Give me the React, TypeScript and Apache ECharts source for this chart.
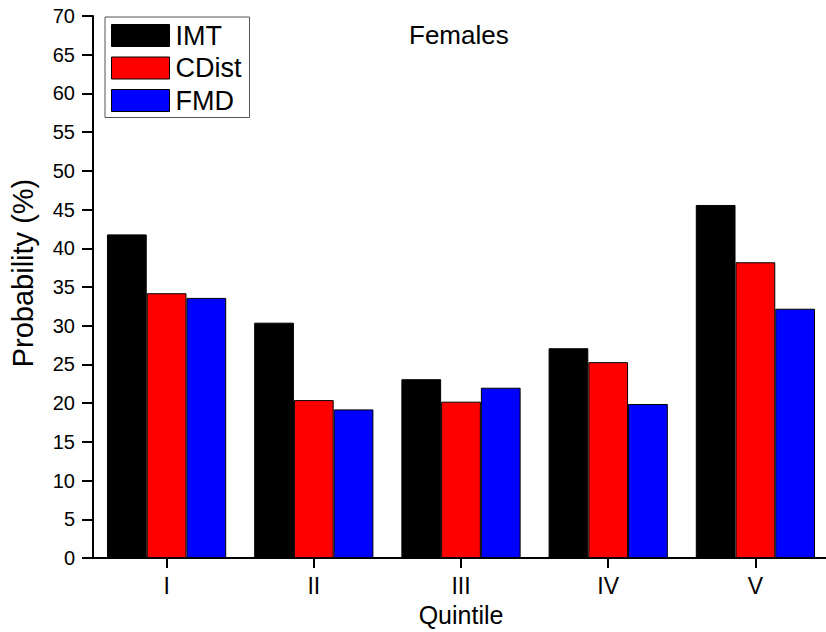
import React, { useEffect, useRef } from "react";
import * as echarts from "echarts";

const categories = ["I", "II", "III", "IV", "V"];
const imt = [41.8, 30.4, 23.1, 27.1, 45.6];
const cdist = [34.2, 20.4, 20.2, 25.3, 38.2];
const fmd = [33.6, 19.2, 22.0, 19.9, 32.2];
const seriesNames = ["IMT", "CDist", "FMD"];
const seriesColors = ["#000000", "#ff0000", "#0000ff"];

const FONT = '"Liberation Sans", Arial, sans-serif';

export default function App() {
  const ref = useRef<HTMLDivElement>(null);
  useEffect(() => {
    if (!ref.current) return;
    const chart = echarts.init(ref.current, null, { renderer: "svg" });
    const values = [imt, cdist, fmd];
    chart.setOption({
      animation: false,
      backgroundColor: "#ffffff",
      textStyle: { fontFamily: FONT, color: "#000" },
      title: {
        text: "Females",
        left: 409,
        top: 22,
        padding: 0,
        textStyle: { fontFamily: FONT, fontSize: 26, fontWeight: "normal", color: "#000" },
      },
      legend: {
        orient: "vertical",
        left: 105,
        top: 17,
        padding: [5, 8, 3.5, 6],
        itemWidth: 58,
        itemHeight: 22,
        itemGap: 5.5,
        borderColor: "#555",
        borderWidth: 1,
        icon: "rect",
        data: seriesNames,
        itemStyle: { borderColor: "#000", borderWidth: 1 },
        textStyle: { fontFamily: FONT, fontSize: 27, color: "#000", padding: [0, 0, 0, 1] },
      },
      grid: { left: 92, right: 11, top: 16, bottom: 72.5, containLabel: false },
      xAxis: {
        type: "category",
        data: categories,
        name: "Quintile",
        nameLocation: "middle",
        nameGap: 42,
        nameTextStyle: { fontFamily: FONT, fontSize: 25, color: "#000" },
        axisLine: { show: true, onZero: false, lineStyle: { color: "#000", width: 2 } },
        axisTick: { show: true, alignWithLabel: true, length: 10, inside: false, lineStyle: { color: "#000", width: 2 } },
        axisLabel: { fontFamily: FONT, fontSize: 23, color: "#000", margin: 16 },
        splitLine: { show: false },
      },
      yAxis: {
        type: "value",
        min: 0,
        max: 70,
        interval: 5,
        name: "Probability (%)",
        nameLocation: "middle",
        nameGap: 56,
        nameTextStyle: { fontFamily: FONT, fontSize: 29, color: "#000", padding: [0, 0, 0, 28] },
        axisLine: { show: true, lineStyle: { color: "#000", width: 2 } },
        axisTick: { show: true, length: 11, inside: false, lineStyle: { color: "#000", width: 2 } },
        axisLabel: { fontFamily: FONT, fontSize: 20, color: "#000", margin: 18 },
        splitLine: { show: false },
      },
      series: seriesNames.map((name, i) => ({
        name,
        type: "bar",
        data: values[i],
        barGap: "0%",
        barCategoryGap: "19%",
        itemStyle: { color: seriesColors[i], borderColor: "#000", borderWidth: 1 },
      })),
    });
    return () => chart.dispose();
  }, []);
  return (
    <div style={{ position: "fixed", left: 0, top: 0, width: 826, height: 632, overflow: "hidden", background: "#fff" }}>
      <div ref={ref} style={{ width: 840, height: 632 }} />
    </div>
  );
}
